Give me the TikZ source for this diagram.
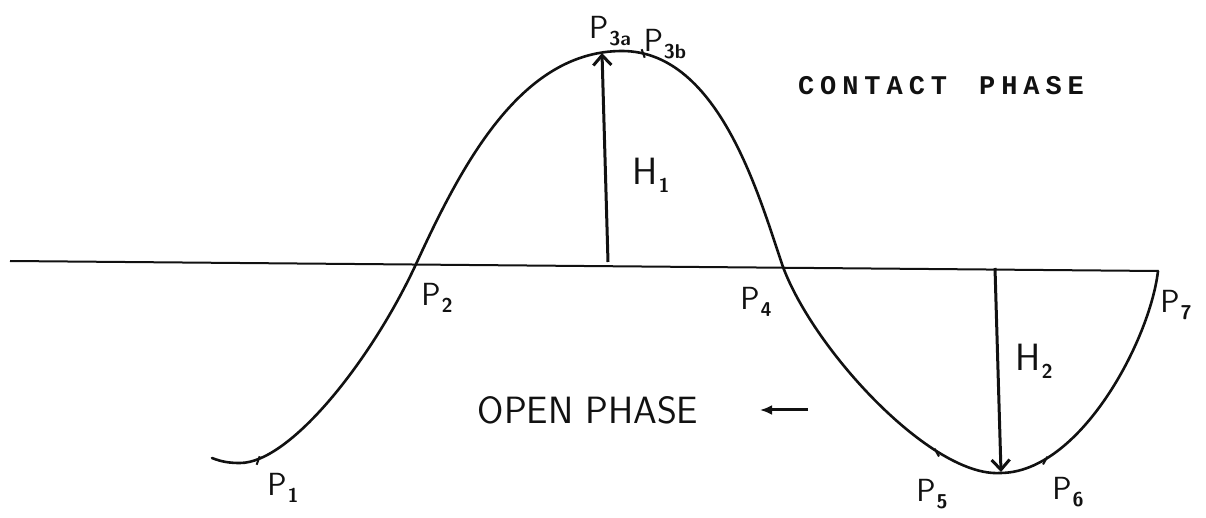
\documentclass[tikz,border=0pt]{standalone}
\usepackage{fontspec}
\usetikzlibrary{arrows.meta}
\newfontfamily\typefont{Liberation Mono}[LetterSpace=22]
\definecolor{ink}{HTML}{111111}
\newcommand{\psub}[2]{#1\raisebox{-0.5ex}{\kern0.5pt\fontsize{10}{10}\selectfont\bfseries #2}}

\begin{document}
\begin{tikzpicture}[x=0.5pt,y=-0.5pt,font=\sffamily,text=ink,>=Latex,
    curve/.style={ink,line width=1.3pt,line cap=round},
    height/.style={ink,line width=1.5pt,-{Straight Barb[length=5pt,width=9pt]}},
    plabel/.style={font=\sffamily\fontsize{16}{16}\selectfont,inner sep=0pt},
    hlabel/.style={font=\sffamily\fontsize{19}{19}\selectfont,inner sep=0pt}]
  \useasboundingbox (0,0) rectangle (1206,518);
  % base line and wave
  \coordinate (axL) at (10,261);
  \coordinate (P7) at (1158,271);
  \coordinate (P2) at (417,262);
  \coordinate (P4) at (783,267);
  \coordinate (top) at (622,51);
  \coordinate (low) at (1000,473);
  \draw[ink,line width=1pt] (axL) -- (P7);
  \draw[curve] (212,458) .. controls (222,462) and (230,463) .. (240,463)
    .. controls (290,463) and (372,360) .. (P2)
    .. controls (463,162) and (522,51) .. (top)
    .. controls (720,51) and (760,200) .. (P4)
    .. controls (815,352) and (932,477) .. (low)
    .. controls (1080,473) and (1150,340) .. (P7);
  % marks on the wave
  \foreach \x/\y/\a in {258/461/-70,643/53/70,937/453/-120,1045/461/-60}{
    \draw[ink,line width=1pt] (\x,\y) ++(\a:-4) -- ++(\a:9);
  }
  % heights
  \coordinate (H1base) at (608,262);
  \coordinate (P3a) at (602,53);
  \coordinate (H2base) at (995,268);
  \coordinate (H2tip) at (1001,472);
  \draw[height] (H1base) -- (P3a);
  \draw[height] (H2base) -- (H2tip);
  % labels
  \node[plabel] (lP1) at (283,488) {\psub{P}{1}};
  \node[plabel] (lP2) at (437,298) {\psub{P}{2}};
  \node[plabel] (lP3a) at (610,31) {\psub{P}{3a}};
  \node[plabel] (lP3b) at (665,44) {\psub{P}{3b}};
  \node[plabel] (lP4) at (756,302) {\psub{P}{4}};
  \node[plabel] (lP5) at (932,494) {\psub{P}{5}};
  \node[plabel] (lP6) at (1068,492) {\psub{P}{6}};
  \node[plabel] (lP7) at (1176,305) {\psub{P}{7}};
  \node[hlabel] (lH1) at (651,175) {\psub{H}{1}};
  \node[hlabel] (lH2) at (1034,361) {\psub{H}{2}};
  \node[hlabel] (open) at (588,410) {OPEN PHASE};
  \coordinate (arrR) at (808,410);
  \coordinate (arrL) at (760,410);
  \draw[ink,line width=1.5pt,-{Latex[length=6pt,width=5pt]}] (arrR) -- (arrL);
  \node[font=\typefont\bfseries\fontsize{13.5}{13.5}\selectfont,inner sep=0pt]
    (contact) at (941,86) {CONTACT\hspace{16pt}PHASE};
\end{tikzpicture}
\end{document}
